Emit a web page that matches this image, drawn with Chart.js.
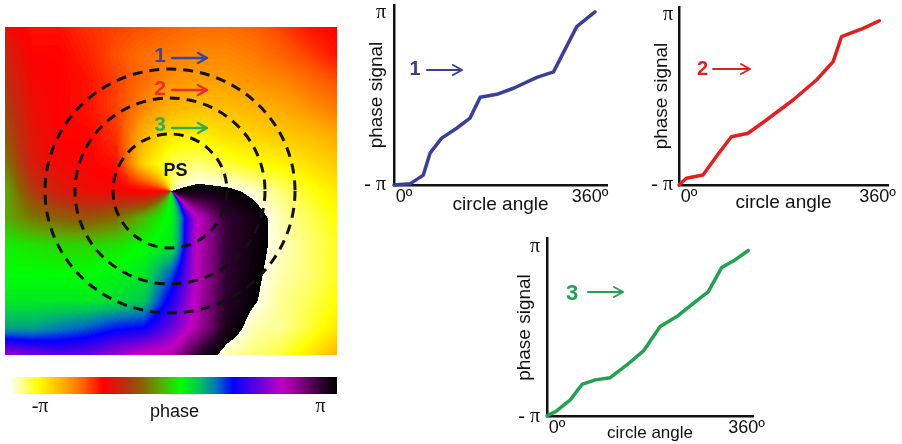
<!DOCTYPE html>
<html><head><meta charset="utf-8">
<script src="https://cdn.jsdelivr.net/npm/chart.js@4.4.1/dist/chart.umd.min.js"></script>
<style>
html,body{margin:0;padding:0;background:#fff;width:902px;height:444px;overflow:hidden;position:relative}
canvas{position:absolute}
</style></head><body>
<canvas id="map" width="345" height="360" style="left:0;top:0"></canvas>
<canvas id="bar" width="345" height="84" style="left:0;top:360px"></canvas>
<canvas id="c1" width="280" height="222" style="left:340px;top:0"></canvas>
<canvas id="c2" width="272" height="222" style="left:630px;top:0"></canvas>
<canvas id="c3" width="280" height="219" style="left:490px;top:225px"></canvas>
<script>
// ---------- data ----------
// circle 1 (blue), circle 2 (red), circle 3 (green): circle angle (deg) vs phase signal (rad)
const angles1 = [0, 28.7, 52.5, 64.5, 85.4, 112.2, 136.1, 154.4, 184.2, 214, 255.8, 285.7, 327.3, 360];
const phase1  = [-3.14, -3.10, -2.78, -1.98, -1.43, -1.07, -0.70, 0.06, 0.17, 0.39, 0.79, 0.99, 2.64, 3.18];
const angles2 = [0, 13.2, 43.1, 67.1, 94, 124, 157, 205, 247, 277, 292, 331, 360];
const phase2  = [-3.14, -2.89, -2.77, -2.09, -1.36, -1.23, -0.74, 0.00, 0.74, 1.42, 2.34, 2.65, 2.93];
const angles3 = [0, 14.8, 41.6, 62.5, 86.2, 113, 142.8, 172.5, 202.3, 232, 261.7, 288.5, 312.3, 333, 360];
const phase3  = [-3.10, -2.96, -2.52, -1.95, -1.78, -1.70, -1.23, -0.71, 0.19, 0.56, 1.05, 1.48, 2.37, 2.61, 3.0];

const xTickValues = [0, 360];
const xTickLabels = ['0º', '360º'];
const yTickValues = [-Math.PI, Math.PI];
const yTickLabels = ['- π', 'π'];
const seriesNames = ['1', '2', '3'];

// phase map sampled on a 13 x 13 grid (0 = -π, 1 = π on the colour scale), rows top to bottom;
// null marks the phase singularity (PS)
const phaseGrid = [
  [0.30, 0.27, 0.27, 0.25, 0.24, 0.23, 0.22, 0.21, 0.21, 0.22, 0.24, 0.27, 0.28],
  [0.33, 0.28, 0.28, 0.26, 0.23, 0.21, 0.20, 0.19, 0.19, 0.20, 0.22, 0.24, 0.27],
  [0.35, 0.29, 0.28, 0.27, 0.24, 0.21, 0.18, 0.17, 0.17, 0.18, 0.19, 0.21, 0.23],
  [0.37, 0.30, 0.28, 0.27, 0.24, 0.19, 0.15, 0.14, 0.14, 0.15, 0.16, 0.18, 0.20],
  [0.39, 0.31, 0.28, 0.28, 0.25, 0.15, 0.10, 0.09, 0.11, 0.12, 0.13, 0.14, 0.16],
  [0.42, 0.32, 0.29, 0.28, 0.27, 0.12, 0.05, 0.04, 0.06, 0.08, 0.09, 0.11, 0.13],
  [0.46, 0.36, 0.32, 0.30, 0.29, 0.28, null, 0.985, 0.99, 0.01, 0.04, 0.07, 0.10],
  [0.46, 0.42, 0.40, 0.39, 0.41, 0.47, 0.53, 0.83, 0.95, 0.98, 0.02, 0.05, 0.08],
  [0.51, 0.50, 0.49, 0.49, 0.50, 0.52, 0.54, 0.84, 0.95, 0.985, 0.015, 0.04, 0.07],
  [0.52, 0.52, 0.52, 0.52, 0.53, 0.54, 0.64, 0.84, 0.95, 0.99, 0.02, 0.04, 0.07],
  [0.54, 0.54, 0.54, 0.54, 0.55, 0.57, 0.70, 0.85, 0.96, 0.995, 0.03, 0.05, 0.08],
  [0.60, 0.60, 0.62, 0.64, 0.67, 0.68, 0.76, 0.86, 0.97, 0.02, 0.03, 0.06, 0.10],
  [0.80, 0.77, 0.75, 0.76, 0.80, 0.84, 0.85, 0.96, 0.02, 0.04, 0.06, 0.10, 0.15]
];
const mapWidth = 332, mapHeight = 328;
const circleCenter = [165, 164];
const circleRx = [57, 95, 125];
const circleRy = [57, 93, 122];

// colour scale from -π to π
const cmapPos = [0, 0.08, 0.17, 0.22, 0.28, 0.35, 0.40, 0.45, 0.52, 0.58, 0.63, 0.68, 0.75, 0.83, 0.89, 0.95, 1];
const cmapColors = ['#ffffe8','#ffff00','#ffa000','#ff6000','#ff0000','#b83010','#8a6000','#60a000','#00ff00','#00c060','#0070c0','#0000ff','#5a00e0','#c000c0','#800080','#300030','#000000'];
const colorbarExtent = [-3.77, 3.51];
const colorbarTickValues = [-Math.PI, Math.PI];
const colorbarTickLabels = ['-π', 'π'];

// ---------- helpers ----------
Chart.defaults.font.family = '"Liberation Sans", Arial, sans-serif';
Chart.defaults.color = '#111';

function hexRgb(h) { return [parseInt(h.slice(1,3),16), parseInt(h.slice(3,5),16), parseInt(h.slice(5,7),16)]; }
const lut = [];
for (let k = 0; k < 256; k++) {
  const p = k / 255;
  let s = 0;
  while (s < cmapPos.length - 2 && p > cmapPos[s + 1]) s++;
  const t = (p - cmapPos[s]) / (cmapPos[s + 1] - cmapPos[s]);
  const a = hexRgb(cmapColors[s]), b = hexRgb(cmapColors[s + 1]);
  lut.push([0,1,2].map(c => Math.round(a[c] + (b[c] - a[c]) * Math.max(0, Math.min(1, t)))));
}

function tagPlugin(items) {
  return {
    id: 'tags',
    afterDraw(chart) {
      const ctx = chart.ctx;
      items.forEach(t => {
        ctx.save();
        ctx.fillStyle = t.color; ctx.strokeStyle = t.color;
        ctx.font = 'bold ' + t.size + 'px "Liberation Sans", Arial, sans-serif';
        ctx.textAlign = 'center'; ctx.textBaseline = 'middle';
        ctx.fillText(t.text, t.x, t.y);
        if (t.arrow) {
          const [x0, x1, y] = t.arrow;
          ctx.lineWidth = t.lw; ctx.lineCap = 'round'; ctx.lineJoin = 'round';
          ctx.beginPath(); ctx.moveTo(x0, y); ctx.lineTo(x1, y);
          ctx.moveTo(x1 - 9, y - 5); ctx.lineTo(x1, y); ctx.lineTo(x1 - 9, y + 5);
          ctx.stroke();
        }
        ctx.restore();
      });
    }
  };
}

// ---------- phase map ----------
const cosGrid = phaseGrid.map(r => r.map(v => (v === null ? 0 : Math.cos(v * 2 * Math.PI))));
const sinGrid = phaseGrid.map(r => r.map(v => (v === null ? 0 : Math.sin(v * 2 * Math.PI))));

const phaseFieldPlugin = {
  id: 'phaseField',
  beforeDatasetsDraw(chart) {
    const {ctx, chartArea: a, scales: {x, y}} = chart;
    const w = Math.round(a.right - a.left), h = Math.round(a.bottom - a.top);
    const img = ctx.createImageData(w, h);
    const nx = phaseGrid[0].length - 1, ny = phaseGrid.length - 1;
    const bil = (g, i0, j0, fx, fy) =>
      (g[j0][i0] * (1 - fx) + g[j0][i0 + 1] * fx) * (1 - fy) + (g[j0 + 1][i0] * (1 - fx) + g[j0 + 1][i0 + 1] * fx) * fy;
    for (let j = 0; j < h; j++) {
      const my = y.getValueForPixel(a.top + j + 0.5);
      const gy = Math.min(Math.max(my / mapHeight * ny, 0), ny - 1e-6);
      const j0 = Math.floor(gy), fy = gy - j0;
      for (let i = 0; i < w; i++) {
        const mx = x.getValueForPixel(a.left + i + 0.5);
        const gx = Math.min(Math.max(mx / mapWidth * nx, 0), nx - 1e-6);
        const i0 = Math.floor(gx), fx = gx - i0;
        const c0 = bil(cosGrid, i0, j0, fx, fy), s0 = bil(sinGrid, i0, j0, fx, fy);
        let v = Math.atan2(s0, c0) / (2 * Math.PI);
        if (v < 0) v += 1;
        const c = lut[Math.min(255, Math.max(0, Math.round(v * 255)))];
        const o = (j * w + i) * 4;
        img.data[o] = c[0]; img.data[o + 1] = c[1]; img.data[o + 2] = c[2]; img.data[o + 3] = 255;
      }
    }
    ctx.putImageData(img, Math.round(a.left), Math.round(a.top));
  },
  afterDatasetsDraw(chart) {
    const {ctx, scales: {x, y}} = chart;
    const cx = x.getPixelForValue(circleCenter[0]), cy = y.getPixelForValue(circleCenter[1]);
    ctx.save();
    ctx.strokeStyle = '#111'; ctx.lineWidth = 3; ctx.setLineDash([10, 7]);
    circleRx.forEach((rx, k) => {
      const rpx = Math.abs(x.getPixelForValue(circleCenter[0] + rx) - cx);
      const rpy = Math.abs(y.getPixelForValue(circleCenter[1] + circleRy[k]) - cy);
      ctx.beginPath(); ctx.ellipse(cx, cy, rpx, rpy, 0, 0, Math.PI * 2); ctx.stroke();
    });
    ctx.restore();
  }
};

new Chart(document.getElementById('map'), {
  type: 'scatter',
  data: { datasets: [] },
  options: {
    responsive: false, animation: false, events: [],
    layout: { padding: { left: 5, top: 27, right: 8, bottom: 5 } },
    plugins: { legend: { display: false }, tooltip: { enabled: false } },
    scales: {
      x: { type: 'linear', min: 0, max: mapWidth, display: false },
      y: { type: 'linear', min: 0, max: mapHeight, reverse: true, display: false }
    }
  },
  plugins: [phaseFieldPlugin, tagPlugin([
    { text: seriesNames[0], x: 160, y: 56, size: 21, color: '#3d46a0', arrow: [172, 207, 58], lw: 2.5 },
    { text: seriesNames[1], x: 160, y: 89, size: 21, color: '#ee2a2a', arrow: [172, 207, 90], lw: 2.5 },
    { text: seriesNames[2], x: 160, y: 125, size: 21, color: '#2fae55', arrow: [172, 207, 128], lw: 2.5 },
    { text: 'PS', x: 175.5, y: 171, size: 18, color: '#111' }
  ])]
});

// ---------- colour bar ----------
new Chart(document.getElementById('bar'), {
  type: 'bar',
  data: { labels: ['phase'], datasets: [{
    data: [colorbarExtent],
    backgroundColor: (c) => {
      const a = c.chart.chartArea;
      if (!a) return '#888';
      const g = c.chart.ctx.createLinearGradient(a.left, 0, a.right, 0);
      cmapPos.forEach((p, i) => g.addColorStop(p, cmapColors[i]));
      return g;
    },
    borderWidth: 0, barPercentage: 1, categoryPercentage: 1
  }] },
  options: {
    indexAxis: 'y', responsive: false, animation: false, events: [],
    layout: { padding: { left: 12, top: 17, right: 8, bottom: 0 } },
    plugins: { legend: { display: false }, tooltip: { enabled: false } },
    scales: {
      y: { display: false },
      x: {
        type: 'linear', min: colorbarExtent[0], max: colorbarExtent[1],
        afterBuildTicks: s => { s.ticks = colorbarTickValues.map(v => ({ value: v })); },
        afterFit: s => { s.height = 50; s.paddingLeft = 0; s.paddingRight = 0; },
        grid: { display: false, drawTicks: false },
        border: { display: false },
        ticks: { padding: 1, autoSkip: false, maxRotation: 0, font: { family: '"Liberation Serif", serif', size: 20 },
                 callback: (v, i) => colorbarTickLabels[i] },
        title: { display: true, text: 'phase', font: { size: 18 }, padding: { top: 0, bottom: 21 } }
      }
    }
  }
});

// ---------- line charts ----------
function lineChart(id, xs, ys, color, cfg, tag) {
  return new Chart(document.getElementById(id), {
    type: 'line',
    data: { datasets: [{
      data: xs.map((a, i) => ({ x: a, y: ys[i] })),
      borderColor: color, borderWidth: 3.5, pointRadius: 0, tension: 0,
      borderJoinStyle: 'round', borderCapStyle: 'round', clip: false, fill: false
    }] },
    options: {
      responsive: false, animation: false, events: [],
      layout: { padding: { left: 0, top: cfg.padTop, right: cfg.padRight, bottom: 0 } },
      plugins: { legend: { display: false }, tooltip: { enabled: false } },
      scales: {
        x: {
          type: 'linear', min: 0, max: cfg.xMax,
          afterBuildTicks: s => { s.ticks = xTickValues.map(v => ({ value: v })); },
          afterFit: s => { s.height = cfg.xH; s.paddingLeft = 0; s.paddingRight = 0; },
          grid: { display: false, drawTicks: false },
          border: { display: true, color: '#111', width: 2.5 },
          ticks: { padding: 1, autoSkip: false, maxRotation: 0, font: { size: 18 },
                   callback: (v, i) => (i === 0 ? '\u2007\u2007' + xTickLabels[i] : xTickLabels[i] + cfg.endPad) },
          title: { display: true, text: 'circle angle', font: { size: cfg.xTitleSize }, padding: { top: 0, bottom: cfg.xTitlePad } }
        },
        y: {
          type: 'linear', min: -Math.PI, max: cfg.yMax,
          afterBuildTicks: s => { s.ticks = yTickValues.map(v => ({ value: v })); },
          afterFit: s => { s.width = cfg.yW; s.paddingTop = 0; s.paddingBottom = 0; },
          grid: { display: false, drawTicks: false },
          border: { display: true, color: '#111', width: 2.5 },
          ticks: { padding: cfg.yTickPad, autoSkip: false, font: { family: '"Liberation Serif", serif', size: 20 },
                   callback: (v, i) => yTickLabels[i] },
          title: { display: true, text: 'phase signal', font: { size: 19 }, padding: { top: cfg.yTitlePad, bottom: 0 } }
        }
      }
    },
    plugins: [tagPlugin([tag])]
  });
}

lineChart('c1', angles1, phase1, '#3b3f98',
  { padTop: 5, padRight: 13, xMax: 381.5, yMax: 3.43, xH: 37, yW: 54, xTitleSize: 19, xTitlePad: 5.6, yTitlePad: 25.6, yTickPad: 8, endPad: '\u2007' },
  { text: seriesNames[0], x: 75, y: 69, size: 20, color: '#3b3f98', arrow: [87, 122, 70], lw: 2 });
lineChart('c2', angles2, phase2, '#e41f1f',
  { padTop: 7, padRight: 14, xMax: 375.6, yMax: 3.437, xH: 37, yW: 49, xTitleSize: 19, xTitlePad: 7.6, yTitlePad: 20.6, yTickPad: 6, endPad: '\u2009' },
  { text: seriesNames[1], x: 72.5, y: 69, size: 20, color: '#e41f1f', arrow: [83, 120, 69], lw: 2 });
lineChart('c3', angles3, phase3, '#22a24f',
  { padTop: 13.3, padRight: 17, xMax: 368.4, yMax: 3.452, xH: 27.3, yW: 57, xTitleSize: 17, xTitlePad: 0.8, yTitlePad: 23.6, yTickPad: 7, endPad: '\u2009' },
  { text: seriesNames[2], x: 82, y: 68.5, size: 22, color: '#22a24f', arrow: [98, 133, 67], lw: 2 });
</script>
</body></html>
